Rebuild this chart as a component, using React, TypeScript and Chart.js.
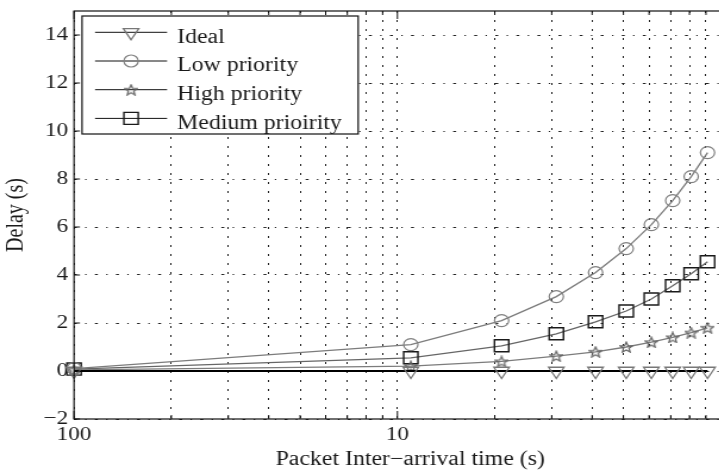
import React, { useEffect, useRef } from 'react';
import { Chart, registerables } from 'chart.js';

Chart.register(...registerables);

// ---- data ----
const X_VALUES = [1, 11, 21, 31, 41, 51, 61, 71, 81, 91];
const IDEAL = [0, 0, 0, 0, 0, 0, 0, 0, 0, 0];
const LOW = [0.1, 1.1, 2.1, 3.1, 4.1, 5.1, 6.1, 7.1, 8.1, 9.1];
const HIGH = [0.05, 0.2, 0.4, 0.62, 0.8, 1.0, 1.2, 1.4, 1.6, 1.8];
const MEDIUM = [0.08, 0.55, 1.05, 1.55, 2.05, 2.5, 3.0, 3.55, 4.05, 4.55];
const SERIES_LABELS = ['Ideal', 'Low priority', 'High priority', 'Medium prioirity'];

const X_TICKS = [1, 2, 3, 4, 5, 6, 7, 8, 9, 10, 20, 30, 40, 50, 60, 70, 80, 90, 100];
const X_MAJOR = [1, 10, 100];
const X_MAJOR_LABELS = ['100', '10', ''];
const Y_TICKS = [-2, 0, 2, 4, 6, 8, 10, 12, 14];
const X_RANGE = [1, 120];
const Y_RANGE = [-2, 15];

const X_TITLE = 'Packet Inter\u2212arrival time (s)';
const Y_TITLE = 'Delay (s)';

// ---- styling ----
const FONT = 'Liberation Serif';
const TEXT = '#1a1a1a';
const SX = 1.19; // horizontal stretch of the reference picture
const CW = 640;
const CH = 472;
const PLOT_LEFT_CSS = 74;
const PLOT_RIGHT_CSS = 746;

function makeStar(size: number, color: string): HTMLCanvasElement {
  const c = document.createElement('canvas');
  c.width = size;
  c.height = size;
  const g = c.getContext('2d')!;
  const cx = size / 2;
  const cy = size / 2 + 0.6;
  const R = size / 2 - 0.6;
  const r = R * 0.45;
  g.beginPath();
  for (let k = 0; k < 10; k++) {
    const ang = -Math.PI / 2 + (k * Math.PI) / 5;
    const rad = k % 2 === 0 ? R : r;
    const px = cx + rad * Math.cos(ang);
    const py = cy + rad * Math.sin(ang);
    if (k === 0) g.moveTo(px, py);
    else g.lineTo(px, py);
  }
  g.closePath();
  g.strokeStyle = color;
  g.lineWidth = 1.3;
  g.stroke();
  return c;
}

function drawMarker(ctx: CanvasRenderingContext2D, ds: any, x: number, y: number) {
  const style = ds.pointStyle;
  const r = ds.pointRadius;
  ctx.save();
  ctx.strokeStyle = ds.pointBorderColor;
  ctx.lineWidth = ds.pointBorderWidth;
  ctx.beginPath();
  if (style === 'circle') {
    ctx.arc(x, y, r, 0, Math.PI * 2);
    ctx.stroke();
  } else if (style === 'rect') {
    const s = Math.SQRT1_2 * r;
    ctx.rect(x - s, y - s, 2 * s, 2 * s);
    ctx.stroke();
  } else if (style === 'triangle') {
    const rot = ((ds.pointRotation || 0) * Math.PI) / 180;
    let rad = rot;
    ctx.moveTo(x + Math.sin(rad) * r, y - Math.cos(rad) * r);
    rad += (2 * Math.PI) / 3;
    ctx.lineTo(x + Math.sin(rad) * r, y - Math.cos(rad) * r);
    rad += (2 * Math.PI) / 3;
    ctx.lineTo(x + Math.sin(rad) * r, y - Math.cos(rad) * r);
    ctx.closePath();
    ctx.stroke();
  } else if (style && style.width) {
    ctx.drawImage(style, x - style.width / 2, y - style.height / 2);
  }
  ctx.restore();
}

const framePlugin = {
  id: 'frame',
  afterDatasetsDraw(chart: any) {
    const { ctx, chartArea: a, scales } = chart;
    ctx.save();
    ctx.strokeStyle = '#111';
    ctx.lineWidth = 1.2;
    ctx.strokeRect(a.left, a.top, a.right - a.left, a.bottom - a.top);
    ctx.lineWidth = 1;
    scales.x.ticks.forEach((t: any) => {
      const px = scales.x.getPixelForValue(t.value);
      const len = X_MAJOR.includes(t.value) ? 8 : 4;
      ctx.beginPath();
      ctx.moveTo(px, a.bottom);
      ctx.lineTo(px, a.bottom - len);
      ctx.moveTo(px, a.top);
      ctx.lineTo(px, a.top + len);
      ctx.stroke();
    });
    scales.y.ticks.forEach((t: any) => {
      const py = scales.y.getPixelForValue(t.value);
      ctx.beginPath();
      ctx.moveTo(a.left, py);
      ctx.lineTo(a.left + 5, py);
      ctx.moveTo(a.right, py);
      ctx.lineTo(a.right - 5, py);
      ctx.stroke();
    });
    ctx.restore();
  },
};

const legendPlugin = {
  id: 'matlabLegend',
  afterDraw(chart: any) {
    const { ctx, chartArea: a } = chart;
    const bx = a.left + 8 / SX;
    const by = 16;
    const bw = 276 / SX;
    const bh = 118;
    ctx.save();
    ctx.fillStyle = '#fff';
    ctx.fillRect(bx, by, bw, bh);
    ctx.strokeStyle = '#111';
    ctx.lineWidth = 1.2;
    ctx.strokeRect(bx, by, bw, bh);
    ctx.font = `20px "${FONT}"`;
    ctx.textBaseline = 'alphabetic';
    ctx.textAlign = 'left';
    chart.data.datasets.forEach((ds: any, i: number) => {
      const y = by + 16.3 + i * 28.7;
      ctx.strokeStyle = '#111';
      ctx.lineWidth = 1;
      ctx.beginPath();
      ctx.moveTo(bx + 13 / SX, y);
      ctx.lineTo(bx + 85 / SX, y);
      ctx.stroke();
      drawMarker(ctx, ds, bx + 49 / SX, y);
      ctx.fillStyle = TEXT;
      ctx.fillText(ds.label, bx + 95 / SX, y + 10.4);
    });
    ctx.restore();
  },
};

function pts(ys: number[]) {
  return X_VALUES.map((x, i) => ({ x, y: ys[i] }));
}

export default function App() {
  const ref = useRef<HTMLCanvasElement | null>(null);

  useEffect(() => {
    const canvas = ref.current;
    if (!canvas) return;
    const star = makeStar(12, '#666666');
    const gray = '#7c7c7c';
    const chart = new Chart(canvas, {
      type: 'line',
      data: {
        datasets: [
          {
            label: SERIES_LABELS[0],
            data: pts(IDEAL),
            borderColor: '#000',
            borderWidth: 1.8,
            pointStyle: 'triangle',
            pointRotation: 180,
            pointRadius: 7.5,
            pointBorderColor: '#777777',
            pointBackgroundColor: 'rgba(0,0,0,0)',
            pointBorderWidth: 1.3,
            clip: false,
          },
          {
            label: SERIES_LABELS[1],
            data: pts(LOW),
            borderColor: gray,
            borderWidth: 1.3,
            pointStyle: 'circle',
            pointRadius: 6,
            pointBorderColor: '#808080',
            pointBackgroundColor: 'rgba(0,0,0,0)',
            pointBorderWidth: 1.2,
            clip: false,
          },
          {
            label: SERIES_LABELS[2],
            data: pts(HIGH),
            borderColor: gray,
            borderWidth: 1.3,
            pointStyle: star,
            pointRadius: 6,
            pointBorderColor: '#666666',
            pointBackgroundColor: 'rgba(0,0,0,0)',
            pointBorderWidth: 1.3,
            clip: false,
          },
          {
            label: SERIES_LABELS[3],
            data: pts(MEDIUM),
            borderColor: '#666666',
            borderWidth: 1.3,
            pointStyle: 'rect',
            pointRadius: 8.5,
            pointBorderColor: '#1a1a1a',
            pointBackgroundColor: 'rgba(0,0,0,0)',
            pointBorderWidth: 1.4,
            clip: false,
          },
        ] as any,
      },
      options: {
        responsive: false,
        animation: false,
        devicePixelRatio: 1,
        events: [],
        layout: {
          padding: { top: 11, right: CW - PLOT_RIGHT_CSS / SX, left: 0, bottom: 0 },
        },
        elements: { line: { tension: 0 } },
        plugins: { legend: { display: false }, tooltip: { enabled: false } },
        scales: {
          x: {
            type: 'logarithmic',
            min: X_RANGE[0],
            max: X_RANGE[1],
            afterBuildTicks: (s: any) => {
              s.ticks = X_TICKS.map((v) => ({ value: v, major: X_MAJOR.includes(v) }));
            },
            afterFit: (s: any) => {
              s.height = 53;
              s.paddingLeft = 0;
              s.paddingRight = 0;
            },
            ticks: {
              autoSkip: false,
              maxRotation: 0,
              minRotation: 0,
              padding: 4,
              color: TEXT,
              font: { family: FONT, size: 19.5 },
              callback: (v: any) => {
                const i = X_MAJOR.indexOf(Number(v));
                return i >= 0 ? X_MAJOR_LABELS[i] : '';
              },
            },
            grid: { color: '#222', lineWidth: 1, drawTicks: false },
            border: { display: false, dash: [2, 7] },
            title: {
              display: true,
              text: X_TITLE,
              color: TEXT,
              font: { family: FONT, size: 20 },
              padding: { top: 0, bottom: 0 },
            },
          },
          y: {
            type: 'linear',
            min: Y_RANGE[0],
            max: Y_RANGE[1],
            afterBuildTicks: (s: any) => {
              s.ticks = Y_TICKS.map((v) => ({ value: v }));
            },
            afterFit: (s: any) => {
              s.width = PLOT_LEFT_CSS / SX;
              s.paddingTop = 0;
              s.paddingBottom = 0;
            },
            ticks: {
              autoSkip: false,
              padding: 5,
              color: TEXT,
              font: { family: FONT, size: 19.5 },
              callback: (v: any) => (Number(v) < 0 ? '\u2212' + Math.abs(Number(v)) : String(v)),
            },
            grid: { color: '#222', lineWidth: 1, drawTicks: false },
            border: { display: false, dash: [2.5, 7, 1.2, 7] },
            title: {
              display: true,
              text: Y_TITLE,
              color: TEXT,
              font: { family: FONT, size: 20 },
              padding: { top: 1.5, bottom: 0 },
            },
          },
        },
      } as any,
      plugins: [framePlugin, legendPlugin],
    });
    return () => chart.destroy();
  }, []);

  return (
    <div style={{ position: 'fixed', left: 0, top: 0, width: 719, height: 472, overflow: 'hidden', background: '#fff' }}>
      <canvas
        ref={ref}
        width={CW}
        height={CH}
        style={{ display: 'block', width: `${CW * SX}px`, height: `${CH}px` }}
      />
    </div>
  );
}
